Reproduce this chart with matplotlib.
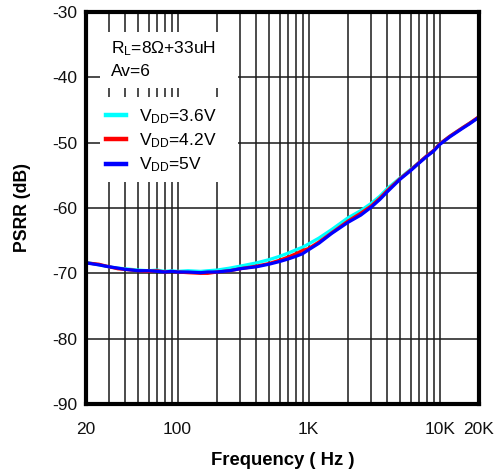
import matplotlib
matplotlib.use("Agg")
import matplotlib.pyplot as plt
from matplotlib.patches import Rectangle
from matplotlib.ticker import FixedLocator, NullLocator

plt.rcParams["font.family"] = ["Liberation Sans", "DejaVu Sans"]
plt.rcParams["mathtext.fontset"] = "custom"
plt.rcParams["mathtext.rm"] = "Liberation Sans"
plt.rcParams["mathtext.it"] = "Liberation Sans"
plt.rcParams["axes.unicode_minus"] = False

# Measured PSRR vs frequency for three supply voltages
freq = [20, 25, 30, 35, 40, 50, 60, 70, 80, 90, 100, 120, 150, 170, 200, 250,
        300, 400, 500, 600, 700, 800, 900, 1000, 1200, 1500, 2000, 2500, 3000,
        3500, 4000, 5000, 6000, 7000, 8000, 9000, 10000, 12000, 15000, 17000, 20000]

psrr_36 = [-68.3, -68.7, -69.0, -69.2, -69.3, -69.5, -69.6, -69.5, -69.7, -69.6,
           -69.7, -69.6, -69.7, -69.6, -69.5, -69.2, -68.9, -68.4, -67.9, -67.4,
           -66.9, -66.4, -66.0, -65.5, -64.6, -63.3, -61.5, -60.4, -59.3,
           -58.2, -57.0, -55.4, -54.1, -53.0, -52.0, -51.2, -50.2, -49.0, -47.7, -47.0, -46.1]

psrr_42 = [-68.4, -68.6, -69.0, -69.3, -69.4, -69.6, -69.7, -69.6, -69.8, -69.7,
           -69.8, -69.9, -70.0, -70.0, -69.8, -69.6, -69.3, -68.9, -68.5, -68.0,
           -67.5, -67.0, -66.5, -66.2, -65.2, -63.8, -62.0, -60.8, -59.7,
           -58.5, -57.3, -55.5, -54.2, -53.0, -52.0, -51.2, -50.2, -49.0, -47.7, -47.0, -46.0]

psrr_50 = [-68.4, -68.7, -69.0, -69.2, -69.4, -69.6, -69.6, -69.7, -69.8, -69.7,
           -69.8, -69.8, -69.9, -69.8, -69.8, -69.6, -69.3, -69.0, -68.6, -68.2,
           -67.8, -67.4, -67.0, -66.4, -65.4, -63.9, -62.2, -61.1, -59.9,
           -58.7, -57.5, -55.6, -54.3, -53.1, -52.1, -51.3, -50.3, -49.1, -47.8, -47.1, -46.1]

series_labels = [r"V$_{\mathrm{DD}}$=3.6V", r"V$_{\mathrm{DD}}$=4.2V", r"V$_{\mathrm{DD}}$=5V"]
series_colors = ["#00FFFF", "#FF0000", "#0000FF"]

x_ticks = [20, 100, 1000, 10000, 20000]
x_ticklabels = ["20", "100", "1K", "10K", "20K"]
y_ticks = [-90, -80, -70, -60, -50, -40, -30]

# vertical grid at every 1-2-3...9 step of each decade
grid_x = [m * d for d in (10, 100, 1000, 10000) for m in range(1, 10)]
grid_x = [g for g in grid_x if 20 <= g <= 20000] + [20000]

fig = plt.figure(figsize=(5.04, 4.75), dpi=100)
ax = fig.add_axes([86 / 504, 1 - 404 / 475, 393 / 504, 392 / 475])

ax.set_xscale("log")
ax.set_xlim(20, 20000)
ax.set_ylim(-90, -30)

for g in grid_x:
    ax.axvline(g, color="#1a1a1a", lw=1.1, zorder=0.5)
for t in y_ticks:
    ax.axhline(t, color="#1a1a1a", lw=1.1, zorder=0.5)

# white panels behind the annotation and the legend
ax.add_patch(Rectangle((0.0356, 0.806), 0.352, 0.143, transform=ax.transAxes,
                       facecolor="white", edgecolor="none", zorder=1))
ax.add_patch(Rectangle((0.0356, 0.566), 0.350, 0.217, transform=ax.transAxes,
                       facecolor="white", edgecolor="none", zorder=1))

for vals, lab, col in zip([psrr_36, psrr_42, psrr_50], series_labels, series_colors):
    ax.plot(freq, vals, color=col, lw=2.3, label=lab, zorder=3,
            solid_joinstyle="round")

ax.text(0.0636, 0.894, r"R$_{\mathrm{L}}$=8Ω+33uH", transform=ax.transAxes,
        fontsize=12.5, va="baseline", ha="left", zorder=4)
ax.text(0.0636, 0.837, "Av=6", transform=ax.transAxes,
        fontsize=12.5, va="baseline", ha="left", zorder=4)

leg = ax.legend(loc="upper left", bbox_to_anchor=(0.052, 0.757), frameon=False,
                fontsize=12.5, handlelength=1.15, handletextpad=0.7,
                labelspacing=0.32, borderpad=0, borderaxespad=0)
for h in leg.get_lines():
    h.set_linewidth(3.2)
leg.set_zorder(5)

ax.xaxis.set_major_locator(FixedLocator(x_ticks))
ax.xaxis.set_minor_locator(NullLocator())
ax.set_xticklabels(x_ticklabels)
ax.set_yticks(y_ticks)
ax.tick_params(axis="both", length=0, labelsize=12.5, colors="#111111")
ax.tick_params(axis="x", pad=13)
ax.tick_params(axis="y", pad=6)

for s in ax.spines.values():
    s.set_linewidth(3.0)
    s.set_color("black")
    s.set_zorder(6)

ax.set_xlabel("Frequency ( Hz )", fontsize=13.3, fontweight="bold", labelpad=11)
ax.set_ylabel("PSRR (dB)", fontsize=12.7, fontweight="bold", labelpad=15.5)

fig.savefig("out.png", dpi=100)
